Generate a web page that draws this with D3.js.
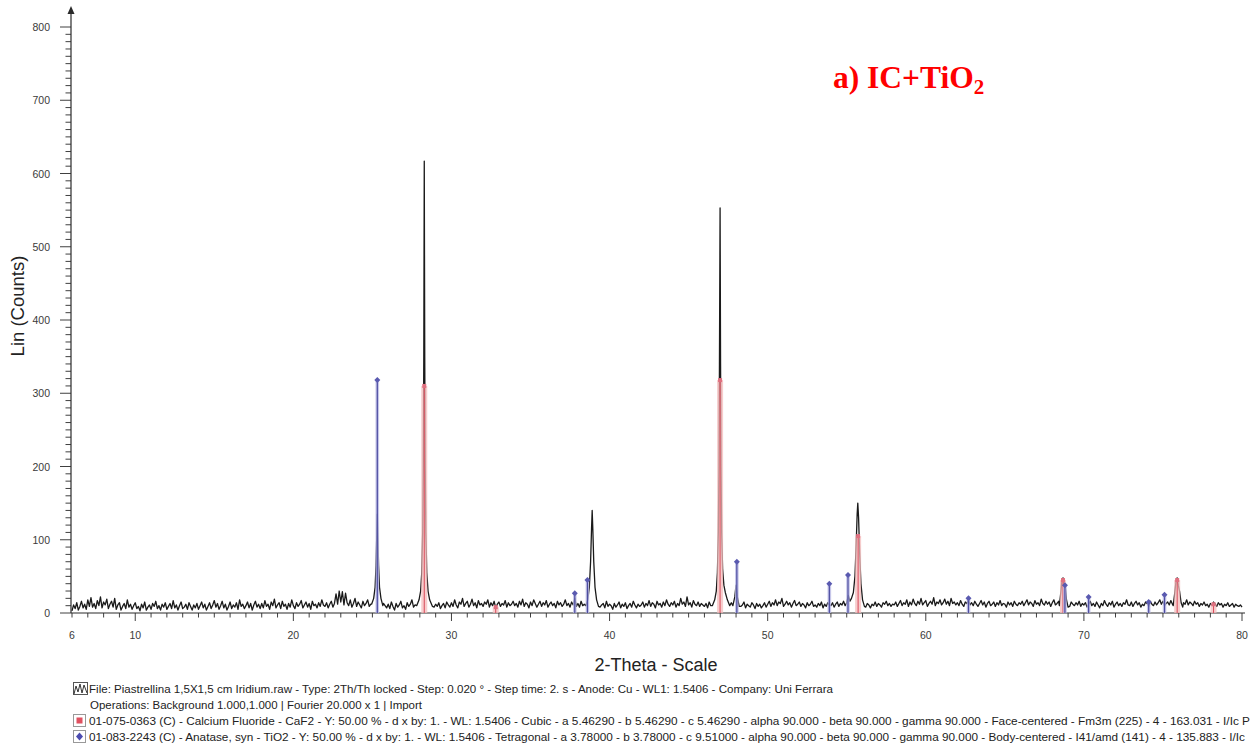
<!DOCTYPE html>
<html>
<head>
<meta charset="utf-8">
<script src="https://cdn.jsdelivr.net/npm/d3@7"></script>
<style>
  body { margin: 0; background: #fff; }
  svg { display: block; font-family: "Liberation Sans", Arial, sans-serif; }
</style>
</head>
<body>
<div id="chart"></div>
<script>

////////// DATA //////////

// background counts, read every 0.1 deg from 6.0 to 80.0
var bgStart = 6, bgStep = 0.1;
var background = [
  3, 11, 6, 14, 4, 9, 16, 7, 12, 5, 18, 9, 21, 8, 13, 6, 17, 10, 22, 7, 15, 11, 19, 6, 12, 16, 8, 20, 5, 11, 14, 4, 9, 13, 6, 18, 8, 12, 5, 10,
  14, 6, 9, 3, 12, 7, 15, 4, 8, 11, 5, 13, 9, 16, 6, 10, 4, 12, 8, 14, 5, 9, 13, 6, 17, 7, 11, 4, 10, 15, 6, 8, 12, 5, 14, 9, 4, 11, 7, 13,
  5, 10, 15, 7, 12, 4, 9, 14, 6, 11, 17, 8, 13, 5, 10, 16, 7, 12, 4, 9, 15, 6, 11, 8, 14, 5, 18, 9, 12, 6, 10, 15, 7, 13, 4, 11, 16, 8, 12, 6,
  13, 7, 17, 9, 12, 5, 15, 10, 19, 7, 11, 14, 6, 16, 9, 12, 5, 13, 8, 18, 10, 6, 14, 9, 12, 17, 7, 11, 15, 8, 13, 5, 16, 10, 12, 7, 14, 9, 18, 11,
  9, 14, 7, 12, 16, 8, 13, 26, 12, 30, 15, 29, 11, 27, 14, 10, 18, 8, 13, 20, 9, 15, 11, 7, 16, 10, 13, 18, 9, 12, 14, 10, 15, 12, 9, 11, 8, 13, 10, 7,
  12, 6, 15, 9, 4, 13, 8, 11, 16, 7, 10, 5, 14, 9, 12, 18, 8, 11, 6, 13, 15, 9, 12, 7, 10, 14, 5, 11, 16, 8, 12, 9, 14, 6, 10, 13, 7, 15, 11, 8,
  14, 9, 18, 11, 7, 15, 12, 20, 9, 13, 16, 8, 12, 19, 10, 14, 7, 17, 11, 13, 9, 15, 12, 18, 8, 14, 10, 16, 7, 12, 15, 9, 13, 11, 17, 8, 14, 10, 12, 16,
  10, 13, 8, 16, 11, 19, 9, 14, 12, 7, 15, 10, 18, 13, 8, 12, 16, 9, 14, 11, 17, 8, 12, 15, 10, 13, 7, 16, 11, 14, 9, 12, 18, 10, 13, 8, 15, 11, 20, 9,
  13, 8, 16, 10, 12, 7, 15, 11, 9, 14, 6, 12, 10, 15, 8, 11, 13, 7, 16, 9, 12, 10, 5, 13, 8, 11, 15, 7, 12, 9, 14, 6, 10, 13, 8, 16, 11, 7, 12, 9,
  11, 15, 8, 13, 10, 17, 9, 14, 12, 7, 16, 11, 13, 8, 15, 10, 18, 12, 9, 14, 11, 16, 8, 13, 10, 20, 12, 15, 9, 22, 11, 14, 8, 17, 12, 10, 15, 9, 13, 11,
  9, 13, 7, 15, 10, 12, 8, 14, 11, 6, 12, 9, 15, 10, 13, 7, 11, 14, 8, 12, 10, 6, 13, 9, 11, 15, 7, 12, 10, 8, 14, 11, 6, 13, 9, 12, 7, 10, 14, 8,
  12, 16, 9, 14, 11, 18, 10, 15, 13, 20, 9, 12, 16, 11, 14, 8, 13, 17, 10, 12, 15, 9, 13, 11, 7, 14, 10, 12, 16, 9, 11, 8, 13, 10, 15, 7, 12, 9, 14, 11,
  10, 14, 8, 12, 15, 9, 13, 11, 16, 10, 18, 12, 20, 14, 11, 17, 13, 9, 15, 12, 10, 14, 8, 13, 11, 7, 12, 10, 15, 9, 13, 11, 8, 14, 12, 16, 10, 13, 9, 12,
  11, 15, 9, 13, 17, 10, 14, 12, 18, 9, 15, 11, 19, 13, 10, 16, 12, 20, 11, 14, 17, 9, 13, 16, 12, 21, 10, 15, 13, 18, 11, 14, 19, 12, 16, 10, 20, 13, 15, 11,
  14, 10, 17, 12, 9, 15, 13, 18, 11, 14, 10, 16, 12, 9, 13, 17, 11, 15, 8, 13, 16, 10, 12, 15, 9, 14, 11, 17, 10, 13, 12, 8, 15, 11, 14, 9, 16, 12, 10, 14,
  12, 16, 10, 14, 18, 11, 15, 13, 9, 17, 12, 14, 10, 19, 13, 11, 16, 12, 15, 9, 14, 18, 11, 13, 16, 10, 15, 12, 17, 11, 13, 9, 15, 12, 10, 14, 11, 16, 9, 13,
  11, 14, 8, 12, 16, 10, 13, 9, 15, 11, 7, 13, 10, 17, 12, 9, 14, 11, 16, 8, 12, 15, 10, 13, 9, 14, 12, 18, 11, 10, 15, 9, 13, 16, 11, 14, 8, 12, 10, 15,
  13, 9, 16, 12, 10, 15, 11, 14, 18, 12, 16, 10, 13, 15, 11, 17, 12, 9, 14, 11, 13, 16, 10, 14, 12, 18, 11, 15, 13, 10, 16, 12, 14, 9, 13, 11, 15, 10, 12, 8,
  13, 10, 15, 12, 9, 14, 11, 13, 8, 12, 10, 14, 9, 11, 13, 8, 12, 10, 9, 11, 8
];

// measured peaks [2theta, counts]
var peak25 = [[24.95, 12], [25.08, 20], [25.17, 35], [25.23, 65], [25.28, 110], [25.31, 135], [25.34, 110], [25.39, 65], [25.45, 35], [25.54, 20], [25.66, 10]];
var peak28 = [[27.8, 10], [27.95, 18], [28.05, 30], [28.12, 55], [28.18, 110], [28.22, 200], [28.25, 350], [28.28, 617], [28.31, 350], [28.34, 200], [28.38, 110], [28.44, 55], [28.52, 30], [28.62, 18], [28.8, 9]];
var peak39 = [[38.5, 10], [38.62, 18], [38.72, 35], [38.8, 70], [38.86, 115], [38.9, 140], [38.94, 115], [39.0, 70], [39.08, 35], [39.18, 18], [39.3, 9]];
var peak47 = [[46.5, 10], [46.65, 18], [46.75, 30], [46.82, 55], [46.88, 110], [46.92, 200], [46.95, 340], [46.99, 553], [47.02, 340], [47.05, 200], [47.09, 110], [47.15, 60], [47.23, 38], [47.32, 28], [47.45, 18], [47.6, 10]];
var peak48 = [[47.8, 10], [47.92, 22], [48.0, 38], [48.08, 22], [48.2, 9]];
var peak56 = [[55.0, 14], [55.1, 24], [55.2, 16], [55.3, 20], [55.42, 28], [55.52, 50], [55.6, 95], [55.66, 135], [55.7, 150], [55.75, 130], [55.82, 80], [55.9, 40], [56.0, 18], [56.12, 9]];
var peak69 = [[68.45, 10], [68.55, 30], [68.62, 46], [68.68, 48], [68.75, 40], [68.82, 36], [68.9, 18], [69.0, 8]];
var peak76 = [[75.65, 10], [75.75, 28], [75.83, 44], [75.9, 48], [75.97, 38], [76.05, 30], [76.15, 14], [76.25, 8]];
var peaks = [peak25, peak28, peak39, peak47, peak48, peak56, peak69, peak76];

// reference sticks [2theta, counts]
var cafSticks = [[28.28, 310], [32.8, 8], [46.99, 318], [55.72, 105], [68.68, 45], [75.9, 45], [78.2, 12]];
var anataseSticks = [[25.31, 318], [37.8, 27], [38.6, 45], [48.05, 70], [53.9, 40], [55.08, 52], [62.7, 20], [68.8, 38], [70.3, 22], [74.1, 15], [75.1, 25]];

var yTicks = [0, 100, 200, 300, 400, 500, 600, 700, 800];
var xTicks = [6, 10, 20, 30, 40, 50, 60, 70, 80];

var legendLines = [
  "File: Piastrellina 1,5X1,5 cm Iridium.raw - Type: 2Th/Th locked - Step: 0.020 \u00b0 - Step time: 2. s - Anode: Cu - WL1: 1.5406 - Company:  Uni Ferrara",
  "Operations: Background 1.000,1.000 | Fourier 20.000 x 1 | Import",
  "01-075-0363 (C) - Calcium Fluoride - CaF2 - Y: 50.00 % - d x by: 1. - WL: 1.5406 - Cubic - a 5.46290 - b 5.46290 - c 5.46290 - alpha 90.000 - beta 90.000 - gamma 90.000 - Face-centered - Fm3m (225) - 4 - 163.031 - I/Ic P",
  "01-083-2243 (C) - Anatase, syn - TiO2 - Y: 50.00 % - d x by: 1. - WL: 1.5406 - Tetragonal - a 3.78000 - b 3.78000 - c 9.51000 - alpha 90.000 - beta 90.000 - gamma 90.000 - Body-centered - I41/amd (141) - 4 - 135.883 - I/Ic"
];
var legendWidths = [744, 332, 1161, 1156];


////////// SETUP //////////

var width = 1257, height = 749;

var x = d3.scaleLinear().domain([6, 80]).range([72, 1242]);
var y = d3.scaleLinear().domain([0, 800]).range([613, 27]);

var svg = d3.select("#chart").append("svg")
    .attr("width", width)
    .attr("height", height);

svg.append("rect").attr("width", width).attr("height", height).attr("fill", "#fff");

// merge background with peaks
var scan = [];
background.forEach(function(v, i) {
  var t = +(bgStart + i * bgStep).toFixed(2);
  var inPeak = peaks.some(function(p) { return t >= p[0][0] && t <= p[p.length - 1][0]; });
  if (!inPeak) scan.push([t, v]);
});
peaks.forEach(function(p) { p.forEach(function(d) { scan.push(d); }); });
scan.sort(function(a, b) { return a[0] - b[0]; });


////////// AXES //////////

var axisColor = "#2a2a2a";

var yAxis = svg.append("g").attr("class", "y-axis");
yAxis.append("line")
    .attr("x1", 71).attr("x2", 71)
    .attr("y1", y(0)).attr("y2", 12)
    .attr("stroke", axisColor)
    .attr("stroke-width", 1.2);
yAxis.append("path")
    .attr("d", "M67.5,14 L71,6 L74.5,14 Z")
    .attr("fill", axisColor);

yAxis.selectAll(".minor")
    .data(d3.range(0, 810, 10))
    .enter().append("line")
    .attr("x1", function(d) { return d % 100 === 0 ? 60 : 65.5; })
    .attr("x2", 71)
    .attr("y1", function(d) { return y(d); })
    .attr("y2", function(d) { return y(d); })
    .attr("stroke", axisColor)
    .attr("stroke-width", 0.9);

yAxis.selectAll(".lab")
    .data(yTicks)
    .enter().append("text")
    .attr("x", 50)
    .attr("y", function(d) { return y(d) + 4; })
    .attr("text-anchor", "end")
    .attr("font-size", 10.5)
    .attr("fill", "#3a3a3a")
    .text(function(d) { return d; });

var xAxis = svg.append("g").attr("class", "x-axis");
xAxis.append("line")
    .attr("x1", 71).attr("x2", 1245)
    .attr("y1", y(0)).attr("y2", y(0))
    .attr("stroke", axisColor)
    .attr("stroke-width", 1.2);

xAxis.selectAll(".minor")
    .data(d3.range(6, 81, 1))
    .enter().append("line")
    .attr("x1", function(d) { return x(d); })
    .attr("x2", function(d) { return x(d); })
    .attr("y1", y(0))
    .attr("y2", function(d) { return (d % 10 === 0) ? y(0) + 8 : y(0) + 4.5; })
    .attr("stroke", axisColor)
    .attr("stroke-width", 0.9);

xAxis.selectAll(".lab")
    .data(xTicks)
    .enter().append("text")
    .attr("x", function(d) { return x(d); })
    .attr("y", 639)
    .attr("text-anchor", "middle")
    .attr("font-size", 10.5)
    .attr("fill", "#3a3a3a")
    .text(function(d) { return d; });

svg.append("text")
    .attr("transform", "translate(24,306) rotate(-90)")
    .attr("text-anchor", "middle")
    .attr("font-size", 18.5)
    .attr("fill", "#222")
    .text("Lin (Counts)");

svg.append("text")
    .attr("x", 656)
    .attr("y", 671)
    .attr("text-anchor", "middle")
    .attr("font-size", 18)
    .attr("fill", "#222")
    .text("2-Theta - Scale");


////////// SCAN //////////

var line = d3.line()
    .x(function(d) { return x(d[0]); })
    .y(function(d) { return y(d[1]); });

svg.append("path")
    .datum(scan)
    .attr("d", line)
    .attr("fill", "none")
    .attr("stroke", "#1a1a1a")
    .attr("stroke-width", 1.3)
    .attr("stroke-linejoin", "round");


////////// REFERENCE STICKS //////////

var caf = svg.append("g").attr("class", "caf");
caf.selectAll("rect")
    .data(cafSticks)
    .enter().append("rect")
    .attr("x", function(d) { return x(d[0]) - 3; })
    .attr("width", 6)
    .attr("y", function(d) { return y(d[1]); })
    .attr("height", function(d) { return y(0) - y(d[1]); })
    .attr("fill", "#f4bcbc")
    .attr("opacity", 0.75);
caf.selectAll("line")
    .data(cafSticks)
    .enter().append("line")
    .attr("x1", function(d) { return x(d[0]); })
    .attr("x2", function(d) { return x(d[0]); })
    .attr("y1", y(0))
    .attr("y2", function(d) { return y(d[1]); })
    .attr("stroke", "#d84a5a")
    .attr("stroke-width", 1);
caf.selectAll(".mk")
    .data(cafSticks)
    .enter().append("rect")
    .attr("x", function(d) { return x(d[0]) - 2; })
    .attr("y", function(d) { return y(d[1]) - 2; })
    .attr("width", 4).attr("height", 4)
    .attr("fill", "#e07080");

var ana = svg.append("g").attr("class", "anatase");
ana.selectAll("rect")
    .data(anataseSticks)
    .enter().append("rect")
    .attr("x", function(d) { return x(d[0]) - 1.8; })
    .attr("width", 3.6)
    .attr("y", function(d) { return y(d[1]); })
    .attr("height", function(d) { return y(0) - y(d[1]); })
    .attr("fill", "#b8b8e4")
    .attr("opacity", 0.8);
ana.selectAll("line")
    .data(anataseSticks)
    .enter().append("line")
    .attr("x1", function(d) { return x(d[0]); })
    .attr("x2", function(d) { return x(d[0]); })
    .attr("y1", y(0))
    .attr("y2", function(d) { return y(d[1]); })
    .attr("stroke", "#4c4ca0")
    .attr("stroke-width", 1.2);
ana.selectAll("path")
    .data(anataseSticks)
    .enter().append("path")
    .attr("d", function(d) {
      var cx = x(d[0]), cy = y(d[1]);
      return "M" + cx + "," + (cy - 3) + "L" + (cx + 3) + "," + cy + "L" + cx + "," + (cy + 3) + "L" + (cx - 3) + "," + cy + "Z";
    })
    .attr("fill", "#5a5ab0");


////////// LEGEND //////////

var legend = svg.append("g").attr("class", "legend");
var legendY = [693, 709, 725, 741];

legend.selectAll("text")
    .data(legendLines)
    .enter().append("text")
    .attr("x", function(d, i) { return i === 1 ? 90 : 89; })
    .attr("y", function(d, i) { return legendY[i]; })
    .attr("font-size", 10.8)
    .attr("fill", "#222")
    .attr("textLength", function(d, i) { return legendWidths[i]; })
    .attr("lengthAdjust", "spacingAndGlyphs")
    .text(function(d) { return d; });

// file icon
legend.append("rect")
    .attr("x", 73.5).attr("y", 682.5).attr("width", 14).attr("height", 12)
    .attr("fill", "#fff").attr("stroke", "#555");
legend.append("path")
    .attr("d", "M74,694 L76,686 L78,692 L80,684 L82,693 L84,685 L87,693")
    .attr("fill", "none").attr("stroke", "#333").attr("stroke-width", 1);

// CaF2 icon
legend.append("rect")
    .attr("x", 73.5).attr("y", 714.5).attr("width", 12).attr("height", 12)
    .attr("fill", "#fff").attr("stroke", "#999");
legend.append("rect")
    .attr("x", 76.5).attr("y", 717.5).attr("width", 6).attr("height", 6)
    .attr("fill", "#e05060");

// anatase icon
legend.append("rect")
    .attr("x", 73.5).attr("y", 730.5).attr("width", 12).attr("height", 12)
    .attr("fill", "#fff").attr("stroke", "#999");
legend.append("path")
    .attr("d", "M79.5,732.5 L83,736.5 L79.5,740.5 L76,736.5 Z")
    .attr("fill", "#4c4cb0");


////////// TITLE //////////

var title = svg.append("text")
    .attr("x", 833)
    .attr("y", 88)
    .attr("font-family", "'Liberation Serif', 'Times New Roman', serif")
    .attr("font-weight", "bold")
    .attr("font-size", 31.5)
    .attr("fill", "#ff0000");
title.append("tspan").text("a) IC+TiO");
title.append("tspan").attr("font-size", 21).attr("dy", 6).text("2");

</script>
</body>
</html>
